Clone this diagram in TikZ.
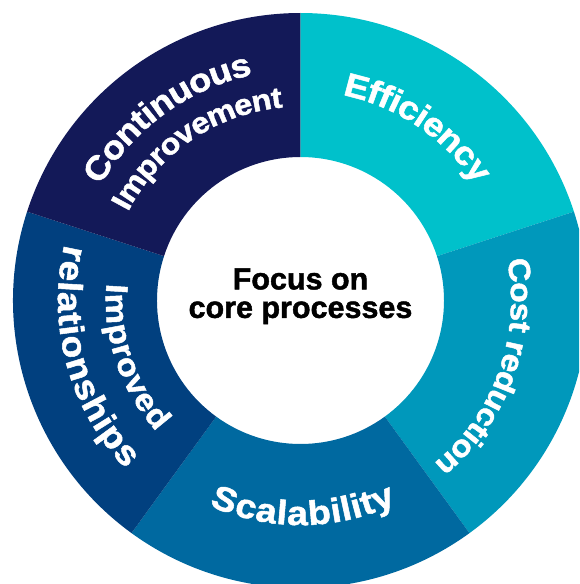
\documentclass[tikz,border=0pt]{standalone}
\usepackage{fontspec}
\setmainfont{Liberation Sans}
\newfontfamily\heavyfont{Liberation Sans Bold}[FakeBold=1.5]
\newfontfamily\widefont{Liberation Sans Bold}[FakeBold=1.5,FakeStretch=1.1]
\usetikzlibrary{decorations.text}
\definecolor{cContinuous}{RGB}{19,25,88}
\definecolor{cEfficiency}{RGB}{0,193,203}
\definecolor{cCost}{RGB}{0,152,187}
\definecolor{cScal}{RGB}{0,105,160}
\definecolor{cRel}{RGB}{1,64,127}
\newcommand\lblfont[1]{\widefont\fontsize{#1}{#1}\selectfont}
\newcommand\ctrfont{\heavyfont\fontsize{30.5}{28.5}\selectfont}
\newcommand\segment[3]{%
  \fill[#3] (#1:143.5pt) -- (#1:287.5pt)
    arc[start angle=#1, end angle=#2, radius=287.5pt]
    -- (#2:143.5pt)
    arc[start angle=#2, end angle=#1, radius=143.5pt] -- cycle;}
% clockwise label: size, mid angle, radius of letter centres, text
\newcommand\cwlabel[4]{%
  \path[decorate, decoration={text along path, text align=center, raise=-0.31*#1pt,
     text color=white, text={|\lblfont{#1}|#4}}]
     ({#2+50}:#3pt) arc[start angle={#2+50}, end angle={#2-50}, radius=#3pt];}
\newcommand\ccwlabel[4]{%
  \path[decorate, decoration={text along path, text align=center, raise=-0.31*#1pt,
     text color=white, text={|\lblfont{#1}|#4}}]
     ({#2-50}:#3pt) arc[start angle={#2-50}, end angle={#2+50}, radius=#3pt];}
\begin{document}
\begin{tikzpicture}[x=1pt,y=1pt]
\useasboundingbox (-300.5pt,-283.5pt) rectangle (278.5pt,300.5pt);
\clip (-300.5pt,-283.5pt) rectangle (278.5pt,300.5pt);
\segment{18}{90}{cEfficiency}
\segment{-54}{18}{cCost}
\segment{-126}{-54}{cScal}
\segment{162}{234}{cRel}
\segment{90}{162}{cContinuous}
% labels
\cwlabel{33}{56}{220}{Efficiency}
\cwlabel{30.5}{-19.75}{220}{Cost reduction}
\ccwlabel{34}{270.6}{214}{Scalability}
\cwlabel{33}{126}{241}{Continuous}
\cwlabel{29.5}{124}{203}{Improvement}
\ccwlabel{31}{198.7}{185}{Improved}
\ccwlabel{34}{195.3}{232}{relationships}
\node[font=\ctrfont, align=center, inner sep=0pt] (center) at (0pt,4.2pt) {Focus on\\core processes};
\end{tikzpicture}
\end{document}
